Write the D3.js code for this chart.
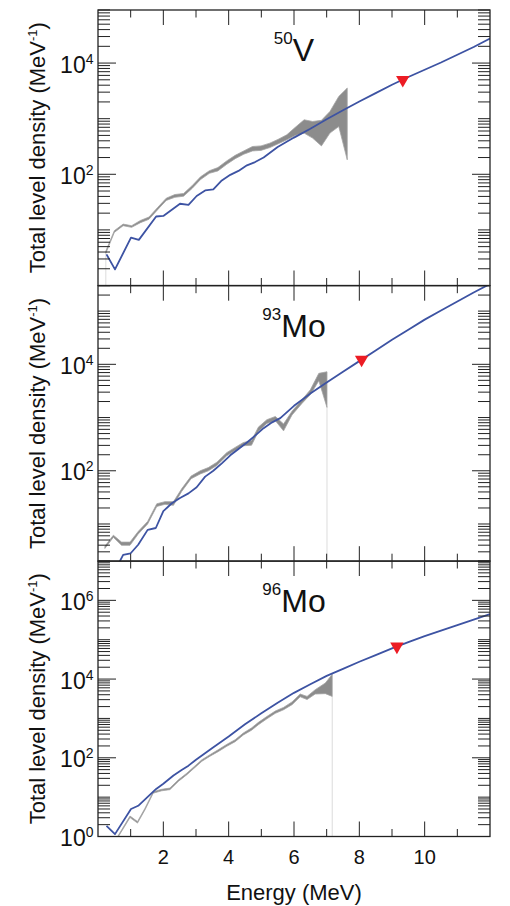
<!DOCTYPE html>
<html>
<head>
<meta charset="utf-8">
<script src="https://cdn.jsdelivr.net/npm/d3@7"></script>
<style>
  html, body { margin: 0; padding: 0; background: #fff; }
  svg { display: block; font-family: "Liberation Sans", Arial, Helvetica, sans-serif; }
</style>
</head>
<body>
<svg id="chart" width="510" height="906"></svg>
<script>
// ---- Energy axis ----
const energyTicks = [1, 2, 3, 4, 5, 6, 7, 8, 9, 10, 11];
const energyLabels = [2, 4, 6, 8, 10];

// ---- 50V ----
const v50ModelEnergy = [0.26,0.52,1.01,1.25,1.78,2.00,2.51,2.77,3.02,3.28,3.53,3.79,4.05,4.30,4.56,4.81,5.07,5.50,6.00,6.50,7.00,7.50,8.00,8.50,9.00,9.50,10.00,10.50,11.00,11.50,12.00];
const v50ModelDensity = [3.63,1.95,7.24,6.61,17.4,17.8,29.5,28.2,40.7,51.3,53.7,77.6,97.7,115,145,166,200,309,457,661,977,1413,2042,2884,4074,5623,7586,10233,14125,19498,27542];
const v50ExpEnergy = [0.24,0.50,0.77,1.03,1.30,1.56,1.82,2.09,2.35,2.62,2.88,3.14,3.41,3.67,3.94,4.20,4.46,4.73,4.99,5.26,5.52,5.78,6.05,6.31,6.57,6.84,7.10,7.37,7.63];
const v50ExpLow = [3.80,9.0,11.9,11.1,13.5,15.5,22.9,33.9,38.5,40.3,55.6,80.4,104,115,151,191,229,263,269,302,355,417,501,550,447,324,550,724,182];
const v50ExpHigh = [4.17,9.7,12.7,11.9,14.8,17.0,25.1,37.2,43.2,45.2,62.4,90.2,116,132,174,219,263,316,324,363,427,513,708,955,891,933,1349,2512,3548];
const v50SnEnergy = [9.33];
const v50SnDensity = [5000];
const v50Decades = [2, 4];

// ---- 93Mo ----
const mo93ModelEnergy = [0.50,0.77,1.00,1.23,1.52,1.77,2.00,2.26,2.51,2.77,3.02,3.28,3.53,3.79,4.05,4.30,4.56,4.81,5.07,5.33,5.58,6.00,6.50,7.00,7.50,8.00,8.50,9.00,9.50,10.00,10.50,11.00,11.50,12.00];
const mo93ModelDensity = [1.26,2.63,2.82,4.07,7.76,8.41,17.4,24.5,30.9,37.6,49.0,77.6,100,138,195,257,339,457,631,813,977,1660,2818,4571,7244,11482,18197,28840,44668,69183,102329,151356,223872,323594];
const mo93ExpEnergy = [0.21,0.47,0.72,0.98,1.23,1.52,1.80,2.05,2.31,2.56,2.85,3.13,3.38,3.64,3.94,4.20,4.45,4.70,4.91,5.17,5.43,5.68,5.94,6.25,6.50,6.76,7.01];
const mo93ExpLow = [3.47,5.62,3.98,3.98,6.46,10.0,21.4,23.4,22.4,40.7,70.8,87.1,100,126,191,240,295,302,550,776,871,562,1122,1862,2692,4898,1549];
const mo93ExpHigh = [3.80,6.17,4.57,4.57,7.24,11.2,24.0,26.3,26.3,45.7,79.4,100,115,145,219,275,339,372,661,912,1047,759,1318,2188,3311,6761,7244];
const mo93SnEnergy = [8.07];
const mo93SnDensity = [12300];
const mo93Decades = [2, 4];

// ---- 96Mo ----
const mo96ModelEnergy = [0.26,0.52,1.01,1.23,1.78,2.00,2.31,2.56,2.77,3.00,3.50,4.00,4.50,5.00,5.50,6.00,6.50,7.00,7.50,8.00,8.50,9.00,9.50,10.00,10.50,11.00,11.50,12.00];
const mo96ModelDensity = [1.86,1.15,5.01,6.03,16.2,21.9,35.5,49.0,63.1,89.1,178,347,708,1349,2512,4467,7413,12023,18197,27542,40738,60256,87096,123027,169824,234423,323594,446684];
const mo96ExpEnergy = [0.55,0.98,1.21,1.44,1.69,1.95,2.20,2.46,2.72,2.95,3.18,3.43,3.69,3.94,4.20,4.45,4.70,4.91,5.17,5.43,5.68,5.94,6.19,6.40,6.65,6.96,7.17];
const mo96ExpLow = [0.79,3.02,2.19,4.79,12.6,14.5,15.5,25.1,37.2,55.0,81.3,110,145,195,257,380,501,692,977,1349,1660,2239,3548,3020,4169,4266,3631];
const mo96ExpHigh = [0.85,3.31,2.40,5.25,13.8,15.8,17.0,27.5,40.7,60.3,89.1,120,162,219,288,427,575,794,1122,1549,1905,2630,4169,3631,5370,7943,13183];
const mo96SnEnergy = [9.15];
const mo96SnDensity = [67600];
const mo96Decades = [0, 2, 4, 6];

// ---- Panel definitions ----
const panels = [
  { mass: "50", element: "V", yMin: 1, yMax: 9e4, decades: v50Decades, dropAt: "first",
    modelE: v50ModelEnergy, model: v50ModelDensity,
    expE: v50ExpEnergy, expLo: v50ExpLow, expHi: v50ExpHigh,
    snE: v50SnEnergy, sn: v50SnDensity },
  { mass: "93", element: "Mo", yMin: 2, yMax: 3e5, decades: mo93Decades, dropAt: "last",
    modelE: mo93ModelEnergy, model: mo93ModelDensity,
    expE: mo93ExpEnergy, expLo: mo93ExpLow, expHi: mo93ExpHigh,
    snE: mo93SnEnergy, sn: mo93SnDensity },
  { mass: "96", element: "Mo", yMin: 1, yMax: 1e7, decades: mo96Decades, dropAt: "last",
    modelE: mo96ModelEnergy, model: mo96ModelDensity,
    expE: mo96ExpEnergy, expLo: mo96ExpLow, expHi: mo96ExpHigh,
    snE: mo96SnEnergy, sn: mo96SnDensity }
];

// ---- Layout ----
const left = 98, right = 490;
const panelTops = [10, 285.7, 561];
const panelH = 275.5;
const axisColor = "#222";
const blue = "#3d53a3";
const bandGray = "#8c8c8c";

const svg = d3.select("#chart");
const defs = svg.append("defs");
const x = d3.scaleLinear().domain([0, 12]).range([left, right]);

panels.forEach((p, i) => {
  const top = panelTops[i];
  const bottom = top + panelH;
  const y = d3.scaleLog().domain([p.yMin, p.yMax]).range([bottom, top]);

  defs.append("clipPath").attr("id", "clip" + i)
    .append("rect").attr("x", left).attr("y", top)
    .attr("width", right - left).attr("height", panelH);

  const g = svg.append("g");
  const plot = g.append("g").attr("clip-path", `url(#clip${i})`);

  // experimental band
  const exp = p.expE.map((e, k) => ({ e, lo: p.expLo[k], hi: p.expHi[k] }));

  // hairline from the open end of the band down to the axis
  const dropPt = p.dropAt === "first" ? exp[0] : exp[exp.length - 1];
  plot.append("line")
    .attr("x1", x(dropPt.e)).attr("x2", x(dropPt.e))
    .attr("y1", y(dropPt.lo)).attr("y2", bottom)
    .attr("stroke", "#dcdcdc").attr("stroke-width", 1);

  const area = d3.area()
    .x(d => x(d.e)).y0(d => y(d.lo)).y1(d => y(d.hi));
  plot.append("path").datum(exp)
    .attr("d", area)
    .attr("fill", bandGray)
    .attr("stroke", "#a4a4a4")
    .attr("stroke-width", 0.8)
    .attr("stroke-linejoin", "round");

  // model curve
  const model = p.modelE.map((e, k) => ({ e, v: p.model[k] }));
  plot.append("path").datum(model)
    .attr("d", d3.line().x(d => x(d.e)).y(d => y(d.v)))
    .attr("fill", "none")
    .attr("stroke", blue)
    .attr("stroke-width", 1.8)
    .attr("stroke-linejoin", "round");

  // density at the neutron separation energy
  const sn = p.snE.map((e, k) => ({ e, v: p.sn[k] }));
  plot.selectAll("path.sn").data(sn).join("path")
    .attr("class", "sn")
    .attr("d", d3.symbol(d3.symbolTriangle, 78)())
    .attr("transform", d => `translate(${x(d.e)},${y(d.v)}) rotate(180)`)
    .attr("fill", "#ec1c24");

  // frame
  g.append("rect")
    .attr("x", left).attr("y", top)
    .attr("width", right - left).attr("height", panelH)
    .attr("fill", "none").attr("stroke", axisColor).attr("stroke-width", 1.3);

  // log ticks on both vertical sides
  const lo = Math.floor(Math.log10(p.yMin)), hi = Math.ceil(Math.log10(p.yMax));
  const yTicks = [];
  for (let n = lo; n <= hi; n++) {
    for (let k = 1; k <= 9; k++) {
      const v = k * Math.pow(10, n);
      if (v >= p.yMin * 0.999 && v <= p.yMax * 1.001) {
        yTicks.push({ v, major: k === 1 && p.decades.includes(n) });
      }
    }
  }
  const tickG = g.append("g").attr("stroke", axisColor).attr("stroke-width", 1);
  yTicks.forEach(t => {
    const len = t.major ? 18 : 12;
    const yy = y(t.v);
    tickG.append("line").attr("x1", left).attr("x2", left + len).attr("y1", yy).attr("y2", yy);
    tickG.append("line").attr("x1", right).attr("x2", right - len).attr("y1", yy).attr("y2", yy);
  });

  // energy ticks on top and bottom
  energyTicks.forEach(e => {
    const len = e % 2 === 0 ? 15 : 7.5;
    const xx = x(e);
    tickG.append("line").attr("x1", xx).attr("x2", xx).attr("y1", bottom).attr("y2", bottom - len);
    tickG.append("line").attr("x1", xx).attr("x2", xx).attr("y1", top).attr("y2", top + len);
  });

  // decade labels
  p.decades.forEach(n => {
    const t = g.append("text")
      .attr("x", 93.5).attr("y", y(Math.pow(10, n)) + 9.5)
      .attr("text-anchor", "end").attr("font-size", 23).attr("fill", "#111");
    t.append("tspan").text("10");
    t.append("tspan").attr("font-size", 14).attr("dy", -9).text(String(n));
  });

  // nucleus label
  const lab = g.append("text")
    .attr("x", (left + right) / 2).attr("y", top + 51)
    .attr("text-anchor", "middle").attr("fill", "#111");
  lab.append("tspan").attr("font-size", 17).attr("dy", -17).text(p.mass);
  lab.append("tspan").attr("font-size", 32).attr("dy", 17).text(p.element);

  // y-axis title
  const yt = g.append("text")
    .attr("transform", `translate(44.5,${top + panelH / 2}) rotate(-90)`)
    .attr("text-anchor", "middle").attr("font-size", 22).attr("fill", "#111");
  yt.append("tspan").text("Total level density (MeV");
  yt.append("tspan").attr("font-size", 13).attr("dy", -8).text("-1");
  yt.append("tspan").attr("dy", 8).text(")");
});

// energy labels under the last panel
const lastBottom = panelTops[2] + panelH;
svg.append("g").selectAll("text").data(energyLabels).join("text")
  .attr("x", d => x(d)).attr("y", lastBottom + 27.5)
  .attr("text-anchor", "middle").attr("font-size", 20).attr("fill", "#111")
  .text(d => d);

svg.append("text")
  .attr("x", (left + right) / 2).attr("y", 900)
  .attr("text-anchor", "middle").attr("font-size", 22).attr("fill", "#111")
  .text("Energy (MeV)");
</script>
</body>
</html>
